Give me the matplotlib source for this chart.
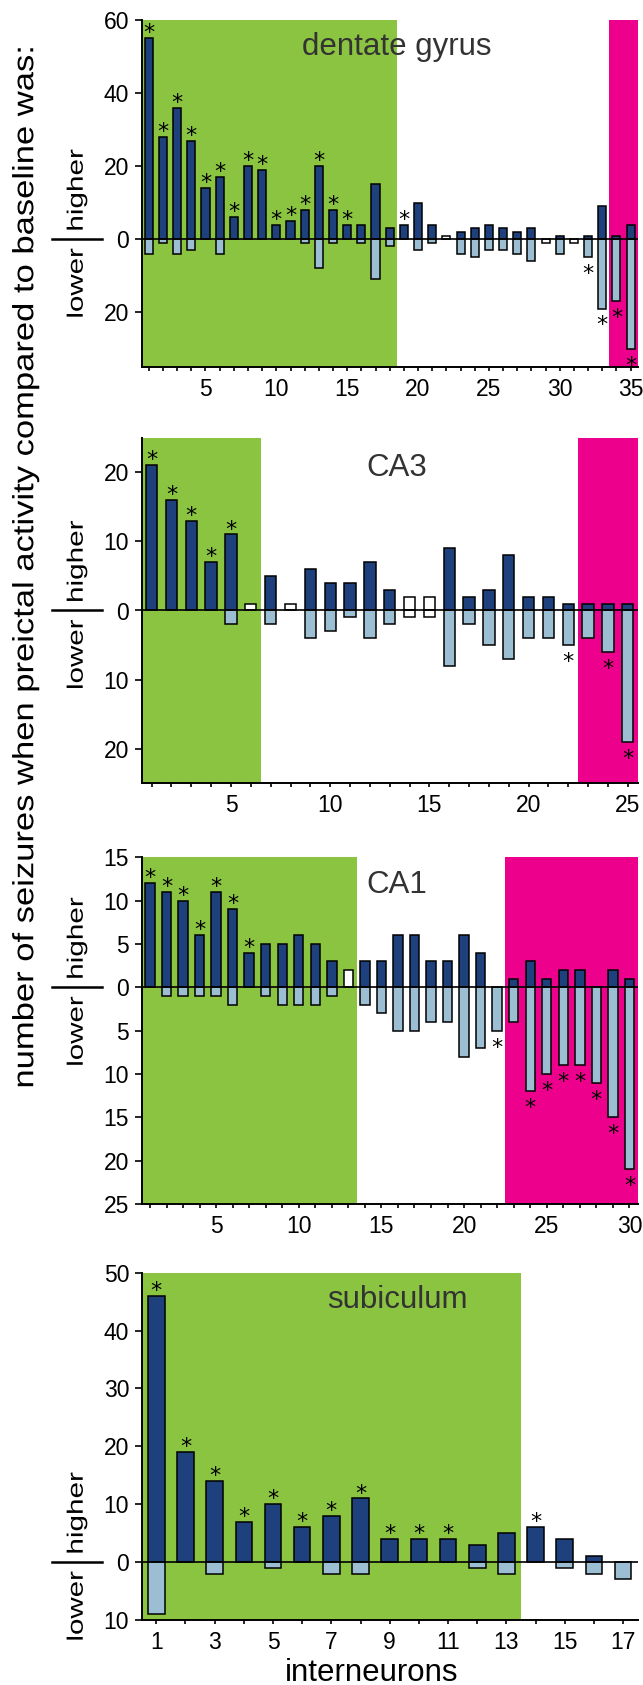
import numpy as np
import matplotlib
matplotlib.use('Agg')
import matplotlib.pyplot as plt
from matplotlib import patheffects
from matplotlib.transforms import Affine2D

plt.rcParams['font.family'] = ['Liberation Sans', 'DejaVu Sans']

# dentate gyrus
dg_higher = [55, 28, 36, 27, 14, 17, 6, 20, 19, 4, 5, 8, 20, 8, 4, 4, 15, 3, 4, 10,
             4, 1, 2, 3, 4, 3, 2, 3, 0, 1, 0, 1, 9, 1, 4]
dg_lower = [4, 1, 4, 3, 0, 4, 0, 0, 0, 0, 0, 1, 8, 1, 0, 1, 11, 2, 0, 3,
            1, 0, 4, 5, 3, 3, 4, 6, 1, 4, 1, 5, 19, 17, 30]
dg_white = [22, 29, 31]
dg_star_up = [1, 2, 3, 4, 5, 6, 7, 8, 9, 10, 11, 12, 13, 14, 15, 19]
dg_star_down = [32, 33, 34, 35]

# CA3
ca3_higher = [21, 16, 13, 7, 11, 1, 5, 1, 6, 4, 4, 7, 3, 2, 2, 9, 2, 3, 8, 2, 2, 1, 1, 1, 1]
ca3_lower = [0, 0, 0, 0, 2, 0, 2, 0, 4, 3, 1, 4, 2, 1, 1, 8, 2, 5, 7, 4, 4, 5, 4, 6, 19]
ca3_white = [6, 8, 14, 15]
ca3_star_up = [1, 2, 3, 4, 5]
ca3_star_down = [22, 24, 25]

# CA1
ca1_higher = [12, 11, 10, 6, 11, 9, 4, 5, 5, 6, 5, 3, 2, 3, 3, 6, 6, 3, 3, 6,
              4, 0, 1, 3, 1, 2, 2, 0, 2, 1]
ca1_lower = [0, 1, 1, 1, 1, 2, 0, 1, 2, 2, 2, 1, 0, 2, 3, 5, 5, 4, 4, 8,
             7, 5, 4, 12, 10, 9, 9, 11, 15, 21]
ca1_white = [13]
ca1_star_up = [1, 2, 3, 4, 5, 6, 7]
ca1_star_down = [22, 24, 25, 26, 27, 28, 29, 30]

# subiculum
sub_higher = [46, 19, 14, 7, 10, 6, 8, 11, 4, 4, 4, 3, 5, 6, 4, 1, 0]
sub_lower = [9, 0, 2, 0, 1, 0, 2, 2, 0, 0, 0, 1, 2, 0, 1, 2, 3]
sub_white = []
sub_star_up = [1, 2, 3, 4, 5, 6, 7, 8, 9, 10, 11, 14]
sub_star_down = []

DARK = '#1e417d'
LIGHT = '#9bbed2'
GREEN = '#8ac440'
MAGENTA = '#ec008c'


class Stretch(patheffects.AbstractPathEffect):
    # stretch text along its reading direction to a given length in pixels
    def __init__(self, length_px):
        super().__init__()
        self.length_px = length_px

    def draw_path(self, renderer, gc, tpath, affine, rgbFace=None):
        ext = tpath.get_extents()
        m = affine.get_matrix()
        scale = np.hypot(m[0, 0], m[1, 0])
        s = self.length_px / (ext.width * scale)
        cx = (ext.x0 + ext.x1) / 2
        st = Affine2D().translate(-cx, 0).scale(s, 1).translate(cx, 0)
        renderer.draw_path(gc, tpath, st + affine, rgbFace)


def draw_panel(ax, higher, lower, white, star_up, star_down, green_to, magenta_from,
               ylim, yticks, labeled, title, title_y):
    n = len(higher)
    x = np.arange(1, n + 1)
    ax.set_xlim(0.5, n + 0.5)
    ax.set_ylim(*ylim)

    ax.axvspan(0.5, green_to, color=GREEN, lw=0, zorder=0)
    if magenta_from is not None:
        ax.axvspan(magenta_from, n + 0.5, color=MAGENTA, lw=0, zorder=0)

    for i, h, l in zip(x, higher, lower):
        if h > 0:
            ax.bar(i, h, width=0.57, color='white' if i in white else DARK,
                   edgecolor='black', linewidth=1.1, zorder=2)
        if l > 0:
            ax.bar(i, -l, width=0.57, color='white' if i in white else LIGHT,
                   edgecolor='black', linewidth=1.1, zorder=2)
    ax.axhline(0, color='black', lw=1.2, zorder=3)

    for i in star_up:
        ax.annotate('*', xy=(i, higher[i - 1]), xytext=(0, -0.8), textcoords='offset points',
                    ha='center', va='baseline', fontsize=16, family='DejaVu Sans', zorder=4)
    for i in star_down:
        ax.annotate('*', xy=(i, -lower[i - 1]), xytext=(0, -16.5), textcoords='offset points',
                    ha='center', va='baseline', fontsize=16, family='DejaVu Sans', zorder=4)

    for side in ['top', 'right']:
        ax.spines[side].set_visible(False)
    for side in ['left', 'bottom']:
        ax.spines[side].set_linewidth(1.4)
    ax.set_yticks(yticks)
    ax.set_yticklabels([str(abs(v)) for v in yticks])
    ax.set_xticks(x)
    ax.set_xticklabels([str(i) if i in labeled else '' for i in x])
    ax.tick_params(axis='y', length=5, width=1.2, pad=4, labelsize=16.5)
    ax.tick_params(axis='x', length=3, width=1.2, pad=5, labelsize=16.5)

    ax.text(0.515, title_y, title, transform=ax.transAxes, ha='center', va='baseline',
            fontsize=22.5, color='#333333')

    trans = ax.get_yaxis_transform()
    ax.plot([-0.181, -0.080], [0, 0], transform=trans, color='black', lw=1.8, clip_on=False)
    ax.annotate('higher', xy=(-0.130, 0), xycoords=trans, xytext=(0, 35.3),
                textcoords='offset points', rotation=90, ha='center', va='center',
                fontsize=16, path_effects=[Stretch(80)], annotation_clip=False)
    ax.annotate('lower', xy=(-0.130, 0), xycoords=trans, xytext=(0, -31.7),
                textcoords='offset points', rotation=90, ha='center', va='center',
                fontsize=16, path_effects=[Stretch(68)], annotation_clip=False)


fig = plt.figure(figsize=(6.43, 16.85), dpi=100)
W, H = 643, 1685
left, width = 141.7 / W, 496 / W


def axes_at(top, bottom):
    return fig.add_axes([left, 1 - bottom / H, width, (bottom - top) / H])


ax1 = axes_at(20, 367)
draw_panel(ax1, dg_higher, dg_lower, dg_white, dg_star_up, dg_star_down, 18.5, 33.5,
           (-35, 60), [60, 40, 20, 0, -20], [5, 10, 15, 20, 25, 30, 35], 'dentate gyrus', 0.899)

ax2 = axes_at(437.7, 783.3)
draw_panel(ax2, ca3_higher, ca3_lower, ca3_white, ca3_star_up, ca3_star_down, 6.5, 22.5,
           (-25, 25), [20, 10, 0, -10, -20], [5, 10, 15, 20, 25], 'CA3', 0.889)

ax3 = axes_at(857.3, 1204)
draw_panel(ax3, ca1_higher, ca1_lower, ca1_white, ca1_star_up, ca1_star_down, 13.5, 22.5,
           (-25, 15), [15, 10, 5, 0, -5, -10, -15, -20, -25], [5, 10, 15, 20, 25, 30], 'CA1', 0.897)

ax4 = axes_at(1272.7, 1620)
draw_panel(ax4, sub_higher, sub_lower, sub_white, sub_star_up, sub_star_down, 13.5, None,
           (-10, 50), [50, 40, 30, 20, 10, 0, -10], [1, 3, 5, 7, 9, 11, 13, 15, 17],
           'subiculum', 0.898)

fig.text(372 / W, 1 - 1681 / H, 'interneurons', ha='center', va='baseline', fontsize=22.5)
fig.text(25.2 / W, 1 - 567 / H,
         'number of seizures when preictal activity compared to baseline was:',
         rotation=90, ha='center', va='center', fontsize=21, path_effects=[Stretch(1038)])

fig.savefig('out.png', dpi=100)
